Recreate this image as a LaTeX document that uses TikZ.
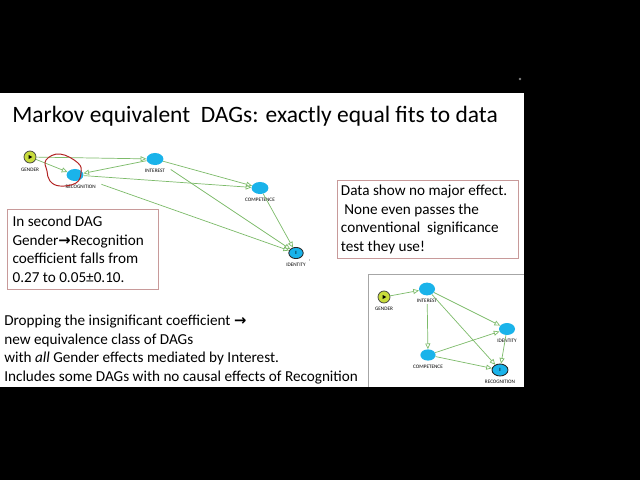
\documentclass[tikz,border=0pt]{standalone}
\usepackage{fontspec}
\setmainfont{Carlito}
\newfontfamily\arrowfont{DejaVu Sans}
\usetikzlibrary{positioning}
\usetikzlibrary{shapes.geometric}
\usetikzlibrary{arrows.meta}
\usetikzlibrary{calc}
\definecolor{edgegreen}{HTML}{7DBB6A}
\definecolor{nodecyan}{HTML}{1AB3EA}
\definecolor{genderlime}{HTML}{C8DC3C}
\definecolor{boxrose}{HTML}{C89A9A}
\definecolor{loopred}{HTML}{B22222}
\newcommand{\rarr}{{\arrowfont\bfseries\fontsize{10.5}{10}\selectfont →}}

\begin{document}
\begin{tikzpicture}[
  x=0.025cm, y=-0.025cm,
  font=\fontsize{10.8}{13.2}\selectfont,
  var/.style={ellipse, fill=nodecyan, minimum width=0.42cm, minimum height=0.3cm, inner sep=0pt},
  outcome/.style={var, draw=black!85, line width=0.6pt, font=\fontsize{3.5}{4}\selectfont\bfseries},
  gendervar/.style={circle, fill=genderlime, draw=black!75, line width=0.5pt, minimum size=0.3cm, inner sep=0pt},
  lab/.style={font=\fontsize{3.7}{4}\selectfont, inner sep=0pt},
  arc/.style={-{Triangle[open, length=4pt, width=3.6pt]}, draw=edgegreen, line width=0.5pt},
  note/.style={draw=boxrose, line width=0.5pt, align=flush left, anchor=north west, inner xsep=3.6pt}
]
% slide and background
\fill[black] (0,0) rectangle (640,480);
\fill[white] (0,93) rectangle (524,387);
\fill[gray] (520,79) circle (1.3);

\node[anchor=west, inner sep=0pt, font=\fontsize{16.7}{20}\selectfont] (title) at (12,116)
  {Markov equivalent\ \ DAGs: exactly equal fits to data};

% first DAG
\node[gendervar] (gender) at (30,157) {};
\node[var] (recog) at (75,175) {};
\node[var] (interest) at (155,159) {};
\node[var] (compet) at (260,188) {};
\node[outcome, minimum width=0.36cm, minimum height=0.28cm] (ident) at (296,253) {I};
\fill[black] ($(gender.center)+(-1.3,-2)$) -- ++(0,4) -- ++(3.6,-2) -- cycle;

\node[lab, below=3pt of gender] (genderL) {GENDER};
\node[lab, below=2.5pt of recog, xshift=4] (recogL) {RECOGNITION};
\node[lab, below=2.5pt of interest] (interestL) {INTEREST};
\node[lab, below=2.5pt of compet] (competL) {COMPETENCE};
\node[lab, below=2.5pt of ident] (identL) {IDENTITY};
\node[lab, right=2pt of identL, yshift=2] (identT) {'};

\draw[arc] (gender) -- (interest);
\draw[arc] (gender) -- (recog);
\draw[arc] (interest) -- (recog);
\draw[arc] (recog) -- (compet);
\draw[arc] (interest) -- (compet);
\draw[arc, shorten <=8pt] (interest) -- (ident);
\draw[arc, shorten <=14pt] (recog) -- (ident);
\draw[arc] (compet) -- (ident);

% hand drawn loop
\draw[loopred, line width=0.7pt] plot[smooth cycle, tension=0.7] coordinates
  {(46,160) (60,154) (78,163) (81,173) (76,183) (60,186) (50,181) (47,171)};

% notes
\node[note, minimum width=3.78cm, minimum height=2.0cm, text width=3.52cm] (fallnote) at (7,209)
  {In second DAG\\Gender\rarr Recognition\\coefficient falls from\\0.27 to 0.05±0.10.};
\node[note, minimum width=4.53cm, minimum height=1.95cm, text width=4.35cm, inner xsep=2.5pt] (datanote) at (337,180)
  {Data show no major effect.\\\ None even passes the\\conventional\ \ significance\\test they use!};
\node[anchor=north west, align=left, inner sep=0pt, font=\fontsize{10.8}{13.1}\selectfont] (dropnote) at (4,315)
  {Dropping the insignificant coefficient \rarr\\new equivalence class of DAGs\\with \textit{all} Gender effects mediated by Interest.\\Includes some DAGs with no causal effects of Recognition};

% second DAG
\draw[gray!70, line width=0.5pt] (524,274) -- (368,274) -- (368,387);
\node[gendervar, minimum size=0.3cm] (gender2) at (384,297) {};
\node[var, minimum width=0.4cm, minimum height=0.32cm] (interest2) at (427,289) {};
\node[var, minimum width=0.4cm, minimum height=0.3cm] (ident2) at (507,329) {};
\node[var, minimum width=0.38cm, minimum height=0.28cm] (compet2) at (428,355) {};
\node[outcome, minimum width=0.4cm, minimum height=0.3cm] (recog2) at (500,370) {I};
\fill[black] ($(gender2.center)+(-1.3,-2)$) -- ++(0,4) -- ++(3.6,-2) -- cycle;

\node[lab, below=2.5pt of gender2] (gender2L) {GENDER};
\node[lab, below=2.5pt of interest2] (interest2L) {INTEREST};
\node[lab, below=2.5pt of ident2] (ident2L) {IDENTITY};
\node[lab, below=2.5pt of compet2] (compet2L) {COMPETENCE};
\node[lab, below=2.5pt of recog2] (recog2L) {RECOGNITION};

\draw[arc] (gender2) -- (interest2);
\draw[arc] (interest2) -- (ident2);
\draw[arc, shorten <=6pt] (interest2) -- (compet2);
\draw[arc] (interest2) -- (recog2);
\draw[arc] (compet2) -- (ident2);
\draw[arc] (compet2) -- (recog2);
\draw[arc] (ident2) -- (recog2);
\end{tikzpicture}
\end{document}
